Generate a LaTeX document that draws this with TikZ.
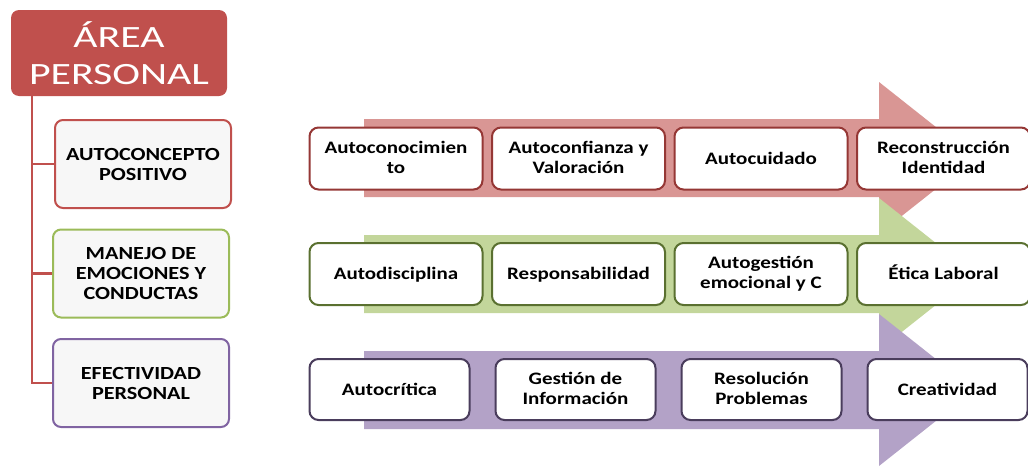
\documentclass[tikz,border=0pt]{standalone}
\usepackage{fontspec}
\setmainfont{Carlito}
\newfontfamily\cajafont[FakeStretch=1.2]{Carlito}
\newfontfamily\titulofont[FakeStretch=1.35]{Carlito}
\definecolor{rojo}{HTML}{C0504D}
\definecolor{rojoclaro}{HTML}{D99694}
\definecolor{rojoosc}{HTML}{953735}
\definecolor{verde}{HTML}{9BBB59}
\definecolor{verdeclaro}{HTML}{C3D69B}
\definecolor{verdeosc}{HTML}{5A7030}
\definecolor{morado}{HTML}{8064A2}
\definecolor{moradoclaro}{HTML}{B3A2C7}
\definecolor{moradoosc}{HTML}{4A3D5C}
\tikzset{
  area/.style={draw=#1, line width=2pt, rounded corners=8pt, fill=black!3, align=center,
    minimum width=176, minimum height=88, font=\cajafont\bfseries\fontsize{18.5}{20}\selectfont},
  paso/.style={draw=#1, line width=2pt, rounded corners=9pt, fill=white, align=center,
    minimum height=62, inner sep=2pt, font=\cajafont\bfseries\fontsize{17.5}{20}\selectfont,
    execute at begin node=\vphantom{É}, execute at end node=\vphantom{g}},
  flecha/.style={fill=#1}
}
\begin{document}
\begin{tikzpicture}[x=1pt,y=-1pt]
    \useasboundingbox (0,0) rectangle (1028,466);
    % titulo y areas
    \node[fill=rojo, rounded corners=8pt, minimum width=216, minimum height=86, text=white, align=center,
      font=\titulofont\fontsize{31}{37}\selectfont] (titulo) at (119,53) {ÁREA\\PERSONAL};
    \node[area=rojo] (auto) at (143,164) {AUTOCONCEPTO\\POSITIVO};
    \node[area=verde] (manejo) at (141,273.5) {MANEJO DE\\EMOCIONES Y\\CONDUCTAS};
    \node[area=morado] (efect) at (141,383) {EFECTIVIDAD\\PERSONAL};
    \coordinate (tronco) at (32,96);
    \draw[rojo, line width=2.5pt] (tronco) |- (efect.west);
    \foreach \n in {auto,manejo} \draw[rojo, line width=2.5pt] (tronco |- \n.west) -- (\n.west);
    % flechas
    \foreach \c/\col in {158/rojoclaro,274/verdeclaro,390/moradoclaro}
      \fill[flecha=\col] (364,\c-39) -- (879,\c-39) -- (879,\c-76) -- (975,\c) -- (879,\c+76)
        -- (879,\c+39) -- (364,\c+39) -- cycle;
    % pasos
    \foreach \i/\txt in {0/{Autoconocimien\\to},1/{Autoconfianza y\\Valoración},2/Autocuidado,3/{Reconstrucción\\Identidad}}
      \node[paso=rojoosc, minimum width=173] (r\i) at (396+182.5*\i,158.5) {\txt};
    \foreach \i/\txt in {0/Autodisciplina,1/Responsabilidad,2/{Autogestión\\emocional y C},3/Ética Laboral}
      \node[paso=verdeosc, minimum width=173] (v\i) at (396+182.5*\i,274) {\txt};
    \foreach \i/\txt in {0/Autocrítica,1/{Gestión de\\Información},2/{Resolución\\Problemas},3/Creatividad}
      \node[paso=moradoosc, minimum width=160, minimum height=61] (m\i) at (389.5+186*\i,389.5) {\txt};
\end{tikzpicture}
\end{document}
